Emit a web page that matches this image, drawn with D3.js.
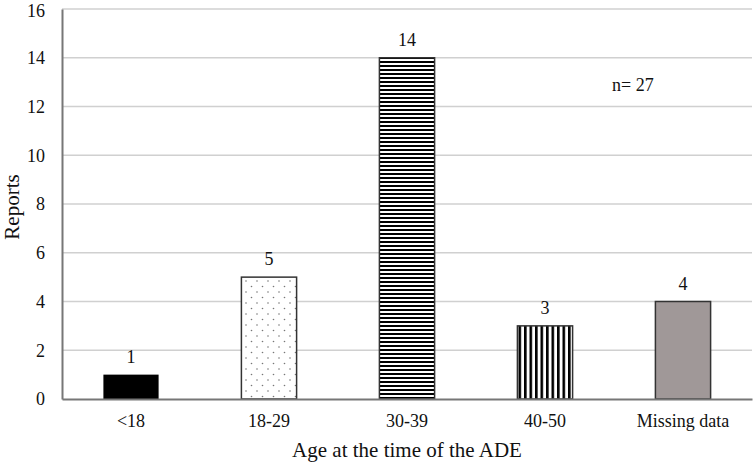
<!DOCTYPE html>
<html>
<head>
<meta charset="utf-8">
<script src="https://cdn.jsdelivr.net/npm/d3@7"></script>
<style>
  body { margin: 0; background: #fff; }
  text { font-family: "Liberation Serif", "Times New Roman", serif; fill: #111; }
</style>
</head>
<body>
<svg id="chart" width="754" height="463"></svg>
<script>
const categories = ['<18', '18-29', '30-39', '40-50', 'Missing data'];
const reports = [1, 5, 14, 3, 4];
const yTicks = [0, 2, 4, 6, 8, 10, 12, 14, 16];
const fills = ['#000000', 'url(#dots)', 'url(#hstripes)', 'url(#vstripes)', '#a09898'];

const svg = d3.select('#chart');
const margin = { top: 9, right: 2, bottom: 64, left: 62 };
const width = 754 - margin.left - margin.right;
const height = 463 - margin.top - margin.bottom;

//patterns
const defs = svg.append('defs');

const dots = defs.append('pattern')
  .attr('id', 'dots')
  .attr('patternUnits', 'userSpaceOnUse')
  .attr('width', 11).attr('height', 11);
dots.append('rect').attr('width', 11).attr('height', 11).attr('fill', '#fff');
dots.append('circle').attr('cx', 2.5).attr('cy', 2.5).attr('r', 0.8).attr('fill', '#777');
dots.append('circle').attr('cx', 8).attr('cy', 8).attr('r', 0.8).attr('fill', '#777');

const hs = defs.append('pattern')
  .attr('id', 'hstripes')
  .attr('patternUnits', 'userSpaceOnUse')
  .attr('width', 4).attr('height', 4);
hs.append('rect').attr('width', 4).attr('height', 4).attr('fill', '#fff');
hs.append('rect').attr('width', 4).attr('height', 2).attr('fill', '#000');

const vs = defs.append('pattern')
  .attr('id', 'vstripes')
  .attr('patternUnits', 'userSpaceOnUse')
  .attr('width', 5.5).attr('height', 5.5);
vs.append('rect').attr('width', 5.5).attr('height', 5.5).attr('fill', '#fff');
vs.append('rect').attr('width', 2.6).attr('height', 5.5).attr('fill', '#000');

const graph = svg.append('g')
  .attr('transform', `translate(${margin.left},${margin.top})`);

//scales
const x = d3.scaleBand().domain(categories).range([0, width]).paddingInner(0.6).paddingOuter(0.3);
const y = d3.scaleLinear().domain([0, 16]).range([height, 0]);

//grid lines
graph.append('g')
  .selectAll('line')
  .data(yTicks.filter(d => d > 0))
  .enter().append('line')
  .attr('x1', 0).attr('x2', width)
  .attr('y1', d => y(d)).attr('y2', d => y(d))
  .attr('stroke', '#d0d0d0')
  .attr('stroke-width', 1.5);

//bars
const data = categories.map((c, i) => ({ cat: c, value: reports[i], fill: fills[i] }));

graph.selectAll('rect.bar')
  .data(data)
  .enter().append('rect')
  .attr('class', 'bar')
  .attr('x', d => x(d.cat))
  .attr('y', d => y(d.value))
  .attr('width', x.bandwidth())
  .attr('height', d => height - y(d.value))
  .attr('fill', d => d.fill)
  .attr('stroke', d => d.cat === '<18' ? 'none' : '#333')
  .attr('stroke-width', 1.5);

//value labels
graph.selectAll('text.val')
  .data(data)
  .enter().append('text')
  .attr('class', 'val')
  .attr('x', d => x(d.cat) + x.bandwidth() / 2)
  .attr('y', d => y(d.value) - 12)
  .attr('text-anchor', 'middle')
  .style('font-size', '18px')
  .text(d => d.value);

//axes
const xAxis = d3.axisBottom(x).tickSize(0).tickPadding(15);
const yAxis = d3.axisLeft(y).tickValues(yTicks).tickSize(0).tickPadding(17);

const xAxisGroup = graph.append('g')
  .attr('transform', `translate(0,${height})`)
  .call(xAxis);
const yAxisGroup = graph.append('g').call(yAxis);

[xAxisGroup, yAxisGroup].forEach(g => {
  g.select('.domain').attr('stroke', '#777').attr('stroke-width', 2);
  g.selectAll('text')
    .style('font-family', '"Liberation Serif", serif')
    .style('font-size', '18px')
    .attr('fill', '#111');
});

//keep the top tick label inside the picture
yAxisGroup.selectAll('.tick text')
  .filter(d => d === 16)
  .attr('dy', '0.42em');

//titles
svg.append('text')
  .attr('x', margin.left + width / 2)
  .attr('y', 457)
  .attr('text-anchor', 'middle')
  .style('font-size', '21px')
  .text('Age at the time of the ADE');

svg.append('text')
  .attr('transform', `translate(19,${margin.top + height / 2 + 3}) rotate(-90)`)
  .attr('text-anchor', 'middle')
  .style('font-size', '21px')
  .text('Reports');

svg.append('text')
  .attr('x', 612)
  .attr('y', 91)
  .style('font-size', '18px')
  .text('n= 27');
</script>
</body>
</html>
